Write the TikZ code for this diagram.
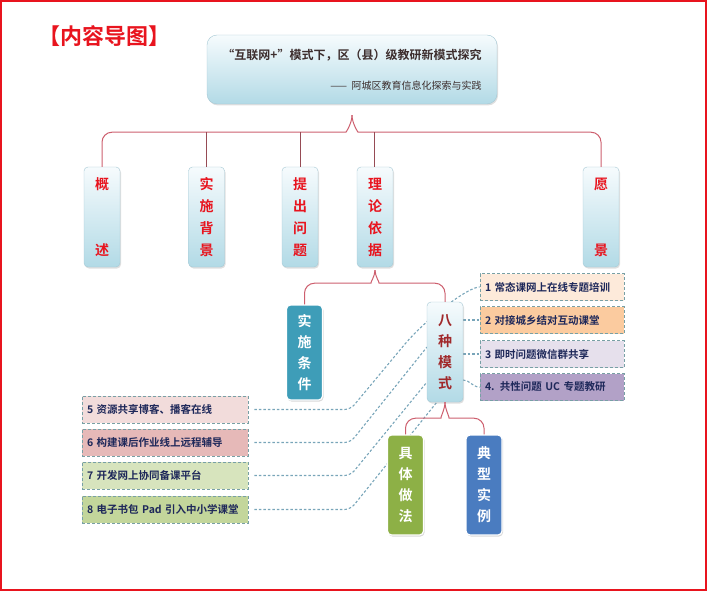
\documentclass[tikz,border=0pt]{standalone}
\usepackage{fontspec}
\newfontfamily\cjk{Noto Sans CJK SC}[BoldFont={Noto Sans CJK SC Bold}]
\usetikzlibrary{calc,shadows}
\definecolor{bracered}{RGB}{205,95,110}
\definecolor{dropred}{RGB}{150,75,85}
\definecolor{linkblue}{RGB}{120,165,185}
\definecolor{boxedge}{RGB}{165,200,212}
\definecolor{boxtop}{RGB}{246,251,253}
\definecolor{boxbot}{RGB}{178,218,230}
\definecolor{titlered}{RGB}{232,20,30}
\definecolor{maintext}{RGB}{60,45,45}
\definecolor{moshired}{RGB}{160,40,42}
\definecolor{itemtext}{RGB}{30,40,90}
\definecolor{itemedge}{RGB}{120,160,165}
\definecolor{tiaojianblue}{RGB}{62,157,184}
\definecolor{zuofagreen}{RGB}{141,176,70}
\definecolor{shiliblue}{RGB}{74,124,192}
\definecolor{mone}{RGB}{253,234,218}
\definecolor{mtwo}{RGB}{251,203,159}
\definecolor{mthree}{RGB}{230,224,236}
\definecolor{mfour}{RGB}{178,161,199}
\definecolor{mfive}{RGB}{242,220,219}
\definecolor{msix}{RGB}{230,185,184}
\definecolor{mseven}{RGB}{215,228,189}
\definecolor{meight}{RGB}{195,214,155}
\begin{document}
\begin{tikzpicture}[x=1pt,y=-1pt,
    tbox/.style={rounded corners=4pt, draw=boxedge, top color=boxtop, bottom color=boxbot,
      minimum width=36pt, minimum height=100pt, inner sep=0pt, align=center, text=titlered,
      font=\cjk\bfseries\fontsize{14}{22}\selectfont,
      drop shadow={opacity=0.25, shadow xshift=1pt, shadow yshift=-1.5pt}},
    cbox/.style={rounded corners=4pt, draw=white, line width=1.2pt,
      minimum width=36pt, minimum height=100pt, inner sep=0pt, align=center, text=white,
      font=\cjk\bfseries\fontsize{14}{21}\selectfont,
      drop shadow={opacity=0.3, shadow xshift=1pt, shadow yshift=-1.5pt}},
    item/.style={draw=itemedge, densely dashed, line width=0.8pt, minimum height=27pt,
      inner xsep=5pt, inner ysep=0pt, align=left, text=itemtext,
      font=\cjk\bfseries\fontsize{10.5}{12}\selectfont},
    brace/.style={draw=bracered, line width=1pt, rounded corners=10pt},
    drop/.style={draw=dropred, line width=1pt},
    link/.style={draw=linkblue, line width=1.1pt, dash pattern=on 2.5pt off 2pt, rounded corners=6pt}]
    \useasboundingbox (0,0) rectangle (707,591);
    \draw[titlered, line width=1.5pt] (1,1) rectangle (706,590);
    \node[font=\cjk\bfseries\fontsize{22}{26}\selectfont, text=titlered] (title) at (104,36) {【内容导图】};
    % dotted links under the boxes
    \node[item, text width=156pt, fill=mfive] (m5) at (165,409.5) {5 资源共享博客、播客在线};
    \node[item, text width=156pt, fill=msix] (m6) at (165,442.5) {6 构建课后作业线上远程辅导};
    \node[item, text width=156pt, fill=mseven] (m7) at (165,475.5) {7 开发网上协同备课平台};
    \node[item, text width=156pt, fill=meight] (m8) at (165,509.5) {8 电子书包 Pad 引入中小学课堂};
    \node[item, text width=134pt, fill=mone] (m1) at (552,287) {1 常态课网上在线专题培训};
    \node[item, text width=134pt, fill=mtwo] (m2) at (552,320) {2 对接城乡结对互动课堂};
    \node[item, text width=134pt, fill=mthree] (m3) at (552,354) {3 即时问题微信群共享};
    \node[item, text width=134pt, fill=mfour] (m4) at (552,387) {4. 共性问题 UC 专题教研};
    \coordinate (mw) at (427,352);
    \draw[link] ([xshift=6pt]m5.east) -- ++(96,0) -- ++(50,-60) .. controls +(25,-30) and +(-12,0) .. (m1.west);
    \draw[link] ([xshift=6pt]m6.east) -- ++(96,0) -- ([yshift=5pt]mw);
    \draw[link] ([xshift=6pt]m7.east) -- ++(96,0) -- ([yshift=-30pt]mw);
    \draw[link] ([xshift=6pt]m8.east) -- ++(96,0) -- ([xshift=10pt,yshift=-50pt]mw);
    \draw[link] (463,320) -- (m2.west);
    \draw[link] (463,354) -- (m3.west);
    \draw[link] (463,380) .. controls (470,380) and (472,387) .. (m4.west);
    % boxes
    \node[tbox, minimum width=290pt, minimum height=69pt, rounded corners=10pt, align=right,
      text=maintext, font=\cjk\bfseries\fontsize{12}{14}\selectfont] (main) at (352,69.5)
      {“互联网+”模式下，区（县）级教研新模式探究\\[16pt]{\mdseries\fontsize{10}{12}\selectfont ——\ \ 阿城区教育信息化探索与实践}};
    \node[tbox] (gaishu) at (102,217) {概\\[44pt]述};
    \node[tbox] (beijing) at (206.5,217) {实\\施\\背\\景};
    \node[tbox] (wenti) at (300,217) {提\\出\\问\\题};
    \node[tbox] (yiju) at (375,217) {理\\论\\依\\据};
    \node[tbox] (yuanjing) at (601,217) {愿\\[44pt]景};
    \node[cbox, fill=tiaojianblue, minimum height=95pt] (tiaojian) at (304.5,352.5) {实\\施\\条\\件};
    \node[tbox, text=moshired, font=\cjk\bfseries\fontsize{14}{21}\selectfont] (moshi) at (445,352) {八\\种\\模\\式};
    \node[cbox, fill=zuofagreen] (zuofa) at (405.5,485) {具\\体\\做\\法};
    \node[cbox, fill=shiliblue] (shili) at (484,485) {典\\型\\实\\例};
    % braces
    \coordinate (tipA) at ([yshift=-11pt]main.south);
    \coordinate (barA) at ($(tipA)+(0,17)$);
    \draw[brace] (gaishu.north) |- ($(tipA)+(-16,17)$) .. controls +(10,0) and +(0,8) .. (tipA);
    \draw[brace] (yuanjing.north) |- ($(tipA)+(16,17)$) .. controls +(-10,0) and +(0,8) .. (tipA);
    \draw[drop] (beijing.north) -- (beijing.north |- barA);
    \draw[drop] (wenti.north) -- (wenti.north |- barA);
    \draw[drop] ([xshift=-1pt]yiju.north) -- ([xshift=-1pt]yiju.north |- barA);
    \coordinate (tipB) at ([yshift=-3pt]yiju.south);
    \draw[brace] (tiaojian.north) |- ($(tipB)+(-14,13)$) .. controls +(9,0) and +(0,6) .. (tipB);
    \draw[brace] (moshi.north) |- ($(tipB)+(14,13)$) .. controls +(-9,0) and +(0,6) .. (tipB);
    \coordinate (tipC) at (moshi.south);
    \draw[brace] (zuofa.north) |- ($(tipC)+(-14,16)$) .. controls +(9,0) and +(0,7) .. (tipC);
    \draw[brace] (shili.north) |- ($(tipC)+(14,16)$) .. controls +(-9,0) and +(0,7) .. (tipC);
\end{tikzpicture}
\end{document}
